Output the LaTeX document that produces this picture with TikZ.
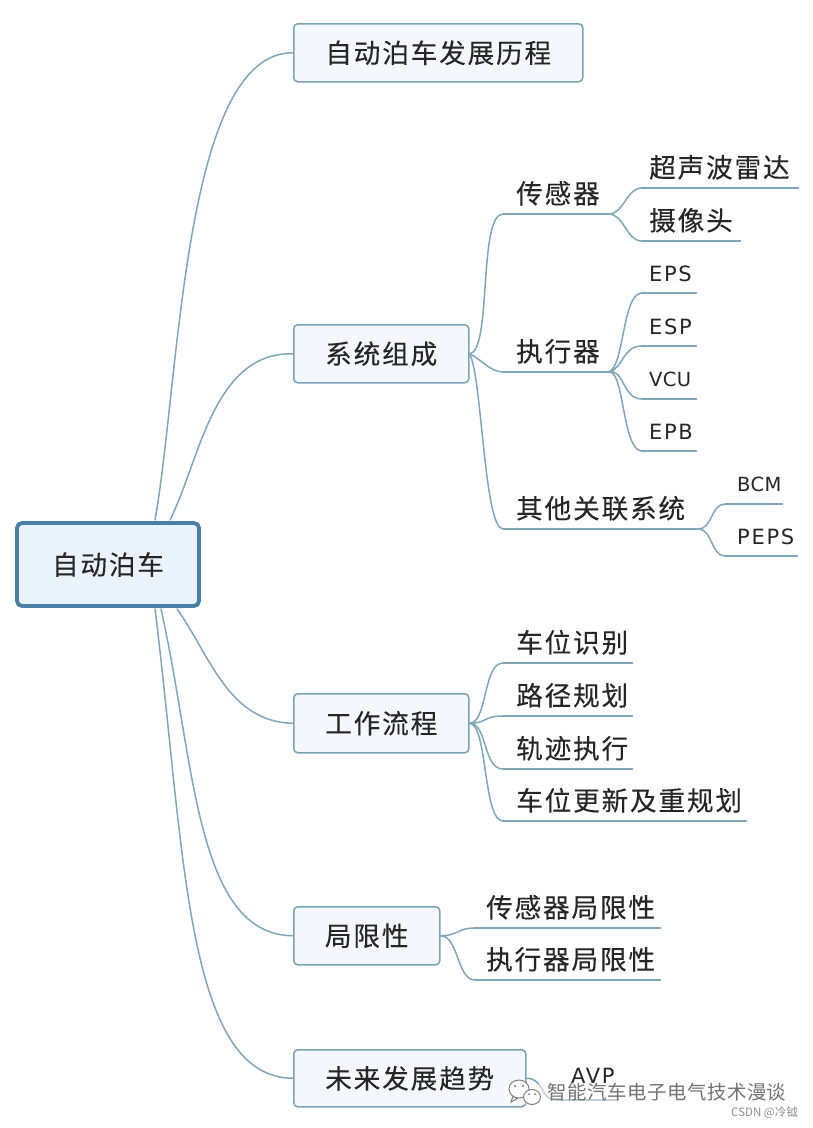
\documentclass[tikz,border=0pt]{standalone}
\usepackage{fontspec}
\setmainfont{Noto Sans CJK SC}[LetterSpace=7,FakeBold=0.15]
\newfontfamily\wmfont{Noto Sans CJK SC}[LetterSpace=3]
\newfontfamily\smfont{Noto Sans CJK SC}
\newfontfamily\latfont{DejaVu Sans}[LetterSpace=8]
\newfontfamily\latfontb{DejaVu Sans}[LetterSpace=2]
\usetikzlibrary{calc}
\definecolor{lnk}{HTML}{7FA6BA}
\definecolor{bord}{HTML}{7BA3B8}
\definecolor{rootb}{HTML}{4A80A8}
\definecolor{rootf}{HTML}{EAF2FB}
\definecolor{subf}{HTML}{F4F8FC}
\definecolor{ink}{HTML}{262626}
\tikzset{
  lk/.style={draw=lnk,line width=1.5pt,line cap=round},
  rootbox/.style={draw=rootb,fill=rootf,line width=3.8pt,rounded corners=5pt,inner sep=0pt,text=ink,font=\fontsize{26.6}{30}\selectfont},
  topic/.style={draw=bord,fill=subf,line width=1.5pt,rounded corners=4pt,inner sep=0pt,text=ink,anchor=north west,font=\fontsize{26.6}{30}\selectfont},
  leaf/.style={anchor=south west,inner sep=0pt,minimum height=41pt,text=ink,font=\fontsize{26.6}{30}\selectfont,align=left},
  latleaf/.style={leaf,minimum height=38pt,font=\fontsize{21}{24}\selectfont\latfont},
  latnarrow/.style={leaf,minimum height=38pt,font=\fontsize{19.5}{24}\selectfont\latfontb}
}
\begin{document}
\begin{tikzpicture}[x=1pt,y=-1pt]
\useasboundingbox[fill=white] (0,0) rectangle (813,1128);

% free ends of the connectors on the root box
\coordinate (r1) at (155,520);
\coordinate (r2) at (170,520);
\coordinate (r3) at (177,609);
\coordinate (r4) at (161,609);
\coordinate (r5) at (155,609);

% main topics
\node[topic,minimum width=289pt,minimum height=58pt] (t1) at (293,23) {自动泊车发展历程};
\node[topic,minimum width=175pt,minimum height=58pt] (t2) at (293,324) {系统组成};
\node[topic,minimum width=175pt,minimum height=59pt] (t3) at (293,693) {工作流程};
\node[topic,minimum width=146pt,minimum height=58pt] (t4) at (293,906) {局限性};
\node[topic,minimum width=232pt,minimum height=57pt] (t5) at (293,1049) {未来发展趋势};

\draw[lk] (r1) .. controls (180,380) and (183,52) .. (t1.west);
\draw[lk] (r2) .. controls (200,460) and (213,352) .. (t2.west);
\draw[lk] (r3) .. controls (210,655) and (228,722) .. (t3.west);
\draw[lk] (r4) .. controls (195,760) and (195,935) .. (t4.west);
\draw[lk] (r5) .. controls (185,850) and (185,1078) .. (t5.west);

\node[rootbox,minimum width=182pt,minimum height=83pt] (root) at (108,564.5) {自动泊车};

% second level: the south west corner of each label starts its underline
\node[leaf,text width=105pt] (a1) at (503,214) {\hspace{13pt}传感器};
\node[leaf,text width=105pt] (a2) at (503,372) {\hspace{13pt}执行器};
\node[leaf,text width=195pt] (a3) at (503,529) {\hspace{13pt}其他关联系统};
\foreach \n in {a1,a2,a3}{\draw[lk] (\n.south west) -- (\n.south east);}
\draw[lk] (t2.east) .. controls (492,352) and (478,214) .. (a1.south west);
\draw[lk] (t2.east) .. controls (480,358) and (490,372) .. (a2.south west);
\draw[lk] (t2.east) .. controls (482,375) and (484,529) .. (a3.south west);

% sensors
\node[leaf,text width=156pt] (b1) at (642,188) {\hspace{7pt}超声波雷达};
\node[leaf,text width=98pt] (b2) at (642,241) {\hspace{7pt}摄像头};
% actuators
\node[latleaf,text width=54pt] (c1) at (642,293) {\hspace{7pt}EPS};
\node[latleaf,text width=54pt] (c2) at (642,346) {\hspace{7pt}ESP};
\node[latnarrow,text width=54pt] (c3) at (642,399) {\hspace{7pt}VCU};
\node[latleaf,text width=54pt] (c4) at (642,451) {\hspace{7pt}EPB};
% other systems
\node[latnarrow,text width=57pt] (d1) at (725,504) {\hspace{12pt}BCM};
\node[latleaf,text width=72pt] (d2) at (725,556) {\hspace{12pt}PEPS};
% workflow
\node[leaf,text width=129pt] (e1) at (503,663) {\hspace{13pt}车位识别};
\node[leaf,text width=129pt] (e2) at (503,716) {\hspace{13pt}路径规划};
\node[leaf,text width=129pt] (e3) at (503,769) {\hspace{13pt}轨迹执行};
\node[leaf,text width=243pt] (e4) at (503,821) {\hspace{13pt}车位更新及重规划};
% limits
\node[leaf,text width=185pt] (f1) at (475,928) {\hspace{11pt}传感器局限性};
\node[leaf,text width=185pt] (f2) at (475,980) {\hspace{11pt}执行器局限性};
% trend
\node[latleaf,text width=62pt,minimum height=48pt] (g1) at (556,1100) {\hspace{15pt}AVP};

\foreach \n in {b1,b2,c1,c2,c3,c4,d1,d2,e1,e2,e3,e4,f1,f2,g1}{\draw[lk] (\n.south west) -- (\n.south east);}

\foreach \n in {b1,b2}{\draw[lk] (a1.south east) .. controls +(16,0) and ($(\n.south west)+(-16,0)$) .. (\n.south west);}
\foreach \n in {c1,c2,c3,c4}{\draw[lk] (a2.south east) .. controls +(16,-4) and ($(\n.south west)+(-20,0)$) .. (\n.south west);}
\foreach \n in {d1,d2}{\draw[lk] (a3.south east) .. controls +(14,0) and ($(\n.south west)+(-14,0)$) .. (\n.south west);}
\foreach \n in {e1,e2,e3,e4}{\draw[lk] (t3.east) .. controls +(18,0) and ($(\n.south west)+(-20,0)$) .. (\n.south west);}
\foreach \n in {f1,f2}{\draw[lk] (t4.east) .. controls +(18,0) and ($(\n.south west)+(-18,0)$) .. (\n.south west);}
\draw[lk] (t5.east) .. controls +(18,0) and ($(g1.south west)+(-16,0)$) .. (g1.south west);

% watermark
\fill[white,opacity=.5] (506,1084) rectangle (792,1104);
\node[anchor=west,inner sep=0pt,text=black!55,font=\fontsize{19.4}{22}\selectfont\wmfont] (wm) at (547,1092) {智能汽车电子电气技术漫谈};
\node[anchor=east,inner sep=0pt,text=black!45,font=\fontsize{11.5}{13}\selectfont\smfont] (cs) at (798,1113) {CSDN @冷钺};
\draw[draw=black!50,line width=1pt,fill=white] (513,1096) -- (511,1102) -- (518,1098) (519,1089) ellipse (10pt and 9pt);
\draw[draw=black!50,line width=1pt,fill=white] (532,1097) ellipse (8.5pt and 7.5pt);
\fill[black!55] (515,1086) circle (1.2pt) (523,1086) circle (1.2pt) (529,1094) circle (1pt) (535,1094) circle (1pt);
\end{tikzpicture}
\end{document}
